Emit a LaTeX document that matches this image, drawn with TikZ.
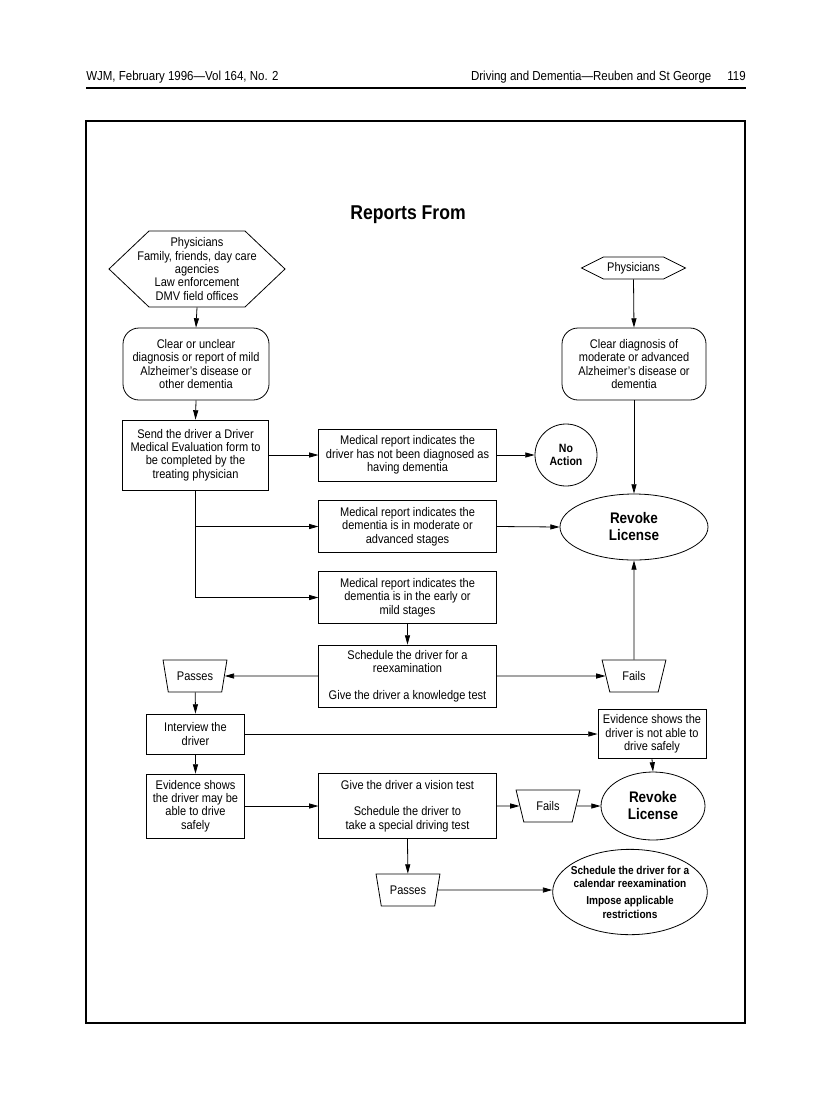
\documentclass[tikz,border=0pt]{standalone}
\usepackage{fontspec}
\setmainfont{Liberation Sans}[FakeStretch=0.88]
\usetikzlibrary{shapes.geometric,arrows.meta}

\tikzset{
  txt/.style={font={\fontsize{9.4pt}{10.1pt}\selectfont}, align=center},
  box/.style={txt, draw, line width=0.6pt, inner sep=0pt},
  roundbox/.style={box, rounded corners=12pt},
  trapbox/.style={box, trapezium, shape border rotate=180,
    trapezium left angle=68, trapezium right angle=68,
    trapezium stretches=true, minimum width=48pt, minimum height=24pt},
  oval/.style={draw, line width=0.6pt, ellipse, align=center,
    inner xsep=-20pt, inner ysep=-8pt,
    font={\bfseries\fontsize{11.5pt}{12.75pt}\selectfont}},
  arr/.style={line width=0.6pt, -{Triangle[length=7pt,width=3.8pt]}},
}

\begin{document}
\begin{tikzpicture}[x=0.75pt,y=-0.75pt]

\useasboundingbox (0,0) rectangle (816,1093);

% Page header and frame
\node[anchor=base west, font={\fontsize{9.8pt}{11pt}\selectfont}, inner sep=0pt] (hdrL) at (86,80) {WJM, February 1996—Vol 164, No. 2};
\node[anchor=base east, font={\fontsize{9.8pt}{11pt}\selectfont}, inner sep=0pt] (hdrR) at (746,80) {Driving and Dementia—Reuben and St George\hspace{12pt}119};
\draw[line width=2.2pt] (86,88) -- (746,88);
\draw[line width=1.4pt] (86,121) rectangle (745,1023);

% Title
\node[font={\bfseries\fontsize{15pt}{16pt}\selectfont}] (title) at (408,215) {Reports From};

% Sources of reports
\node[txt, minimum height=57pt, inner sep=0pt] (srcL) at (197,269) {Physicians\\Family, friends, day care\\agencies\\Law enforcement\\DMV field offices};
\draw[line width=0.6pt] (srcL.center) ++(-48,-38) -- ++(96,0) -- ++(40,38) -- ++(-40,38) -- ++(-96,0) -- ++(-40,-38) -- cycle;
\node[txt, minimum height=16.5pt, inner sep=0pt] (physR) at (633.5,268) {Physicians};
\draw[line width=0.6pt] (physR.center) ++(-30,-11) -- ++(60,0) -- ++(22,11) -- ++(-22,11) -- ++(-60,0) -- ++(-22,-11) -- cycle;

% Diagnosis boxes
\node[roundbox, minimum width=109.5pt, minimum height=54pt] (clearL) at (196,364) {Clear or unclear\\diagnosis or report of mild\\Alzheimer's disease or\\other dementia};
\node[roundbox, minimum width=108pt, minimum height=54pt] (clearR) at (634,364) {Clear diagnosis of\\moderate or advanced\\Alzheimer's disease or\\dementia};

% Medical evaluation
\node[box, minimum width=109pt, minimum height=52.5pt] (sendBox) at (195.5,455) {Send the driver a Driver\\Medical Evaluation form to\\be completed by the\\treating physician};
\node[box, minimum width=133pt, minimum height=39pt] (medA) at (407.5,455) {Medical report indicates the\\driver has not been diagnosed as\\having dementia};
\node[box, minimum width=133pt, minimum height=39pt] (medB) at (407.5,526.5) {Medical report indicates the\\dementia is in moderate or\\advanced stages};
\node[box, minimum width=133pt, minimum height=38.5pt] (medC) at (407.5,597.5) {Medical report indicates the\\dementia is in the early or\\mild stages};
\node[draw, circle, line width=0.6pt, minimum size=46.5pt, inner sep=0pt, align=center, font={\bfseries\fontsize{9pt}{10.1pt}\selectfont}] (noAct) at (566,455) {No\\Action};
\node[oval, minimum width=111pt, minimum height=49.5pt] (revokeA) at (634,527) {Revoke\\License};

% Reexamination
\node[box, minimum width=133pt, minimum height=46.5pt] (sched) at (407.5,676) {Schedule the driver for a\\reexamination\\[9.5pt]Give the driver a knowledge test};
\node[trapbox] (passesA) at (195,676) {Passes};
\node[trapbox] (failsA) at (634,676) {Fails};
\node[box, minimum width=74pt, minimum height=30pt] (interview) at (195.5,734) {Interview the\\driver};
\node[box, minimum width=81pt, minimum height=37pt] (evidNot) at (652,734) {Evidence shows the\\driver is not able to\\drive safely};
\node[box, minimum width=74pt, minimum height=48pt] (evidMay) at (195.5,806) {Evidence shows\\the driver may be\\able to drive\\safely};
\node[box, minimum width=133pt, minimum height=49pt] (vision) at (407.5,806) {Give the driver a vision test\\[9.5pt]Schedule the driver to\\take a special driving test};
\node[trapbox] (failsB) at (548,806) {Fails};
\node[oval, minimum width=78pt, minimum height=51pt] (revokeB) at (653,806) {Revoke\\License};
\node[trapbox] (passesB) at (408,890) {Passes};
\node[oval, minimum width=116pt, minimum height=64pt, font={\bfseries\fontsize{8.6pt}{10.2pt}\selectfont}] (finalOv) at (630,892) {Schedule the driver for a\\calendar reexamination\\[2.5pt]Impose applicable\\restrictions};

% Connectors
\draw[arr] (srcL.south) -- (clearL.north);
\draw[arr] (clearL.south) -- (sendBox.north);
\draw[arr] (physR.south) -- (clearR.north);
\draw[arr] (clearR.south) -- (revokeA.north);
\draw[arr] (sendBox.east) -- (medA.west);
\draw[arr] (medA.east) -- (noAct.west);
\draw[arr] (sendBox.south) |- (medC.west);
\draw[arr] (sendBox.south |- medB.west) -- (medB.west);
\draw[arr] (medB.east) -- (revokeA.west);
\draw[arr] (medC.south) -- (sched.north);
\draw[arr] (sched.west) -- (passesA);
\draw[arr] (sched.east) -- (failsA);
\draw[arr] (failsA) -- (revokeA.south);
\draw[arr] (passesA) -- (interview.north);
\draw[arr] (interview.east) -- (evidNot.west);
\draw[arr] (evidNot.south) -- (revokeB.north);
\draw[arr] (interview.south) -- (evidMay.north);
\draw[arr] (evidMay.east) -- (vision.west);
\draw[arr] (vision.east) -- (failsB);
\draw[arr] (failsB) -- (revokeB.west);
\draw[arr] (vision.south) -- (passesB);
\draw[arr] (passesB) -- (finalOv.west |- passesB);

\end{tikzpicture}
\end{document}
